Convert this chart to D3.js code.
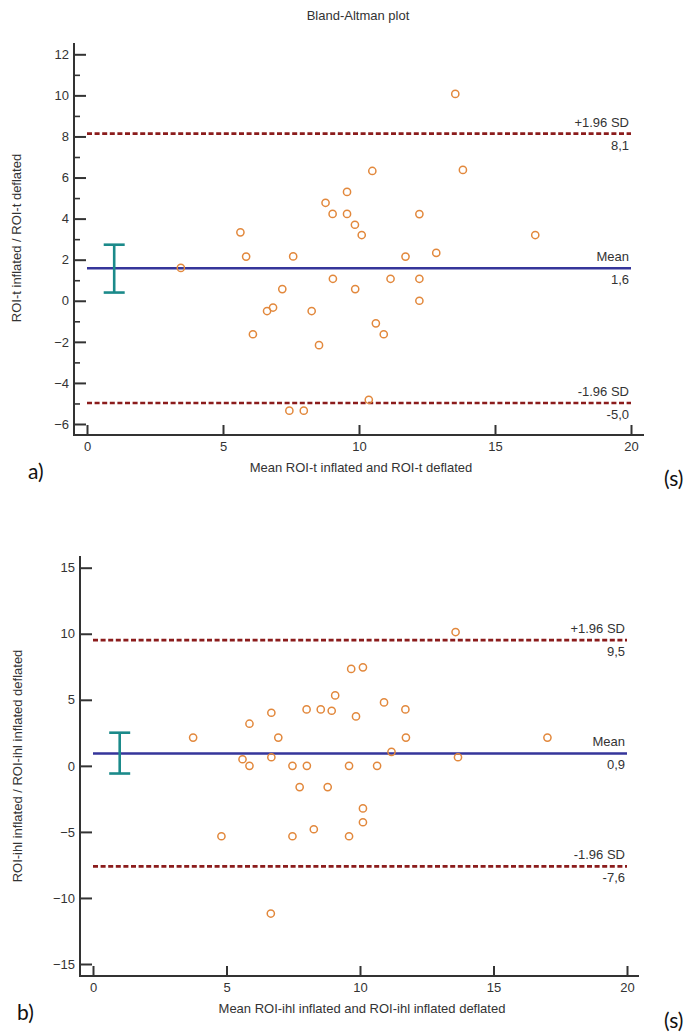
<!DOCTYPE html>
<html>
<head>
<meta charset="utf-8">
<script src="https://cdn.jsdelivr.net/npm/d3@7"></script>
<style>
  html, body { margin: 0; padding: 0; background: #fff; }
  svg { display: block; }
  text { font-family: "Liberation Sans", Arial, sans-serif; fill: #333; }
</style>
</head>
<body>
<svg id="chart" width="686" height="1036"></svg>
<script>
// ---------- DATA ----------
const titleText = "Bland-Altman plot";

// Panel a)
const aMeanX = [3.45, 5.64, 5.85, 6.10, 6.62, 6.84, 7.18, 7.44, 7.58, 7.97, 8.26, 8.53, 8.77, 9.03, 9.04, 9.56, 9.56, 9.85, 9.86, 10.1, 10.36, 10.49, 10.62, 10.91, 11.16, 11.71, 12.22, 12.22, 12.22, 12.84, 13.54, 13.82, 16.48];
const aDiffY = [1.6, 3.33, 2.15, -1.63, -0.5, -0.33, 0.57, -5.35, 2.16, -5.35, -0.5, -2.16, 4.77, 4.23, 1.07, 4.23, 5.3, 3.7, 0.57, 3.2, -4.82, 6.32, -1.1, -1.63, 1.07, 2.15, 4.22, 1.07, 0.0, 2.33, 10.07, 6.37, 3.2];
const aStats = { mean: 1.58, upper: 8.14, lower: -4.98 };
const aStatLabels = { mean: "1,6", upper: "8,1", lower: "-5,0" };
const aCI = { x: 1, low: 0.40, high: 2.73 };
const aYMajor = [-6, -4, -2, 0, 2, 4, 6, 8, 10, 12];
const aYMinor = [-5, -3, -1, 1, 3, 5, 7, 9, 11];
const aXTicks = [0, 5, 10, 15, 20];
const aXLabel = "Mean ROI-t inflated and ROI-t deflated";
const aYLabel = "ROI-t inflated / ROI-t deflated";

// Panel b)
const bMeanX = [13.58, 9.67, 10.11, 9.07, 10.9, 8.0, 8.53, 8.94, 11.70, 6.68, 9.85, 5.86, 3.75, 6.94, 11.72, 17.02, 11.18, 5.6, 5.86, 6.68, 7.47, 8.01, 9.59, 10.64, 13.67, 7.74, 8.79, 10.11, 10.11, 8.27, 4.81, 7.47, 9.59, 6.66];
const bDiffY = [10.13, 7.34, 7.46, 5.33, 4.8, 4.27, 4.27, 4.17, 4.27, 4.02, 3.74, 3.19, 2.14, 2.14, 2.14, 2.14, 1.06, 0.5, 0.0, 0.65, 0.0, 0.0, 0.0, 0.0, 0.65, -1.61, -1.61, -3.22, -4.27, -4.8, -5.33, -5.33, -5.33, -11.18];
const bStats = { mean: 0.94, upper: 9.52, lower: -7.61 };
const bStatLabels = { mean: "0,9", upper: "9,5", lower: "-7,6" };
const bCI = { x: 1, low: -0.58, high: 2.51 };
const bYMajor = [-15, -10, -5, 0, 5, 10, 15];
const bYMinor = [];
const bXTicks = [0, 5, 10, 15, 20];
const bXLabel = "Mean ROI-ihl inflated and ROI-ihl inflated deflated";
const bYLabel = "ROI-ihl inflated / ROI-ihl inflated deflated";

// ---------- STYLE ----------
const C = {
  axis: "#333333",
  point: "#e2883c",
  mean: "#35359a",
  sd: "#8b1c1c",
  ci: "#1b8a8a"
};

const svg = d3.select("#chart");

svg.append("text")
  .attr("x", 358).attr("y", 19.5)
  .attr("text-anchor", "middle")
  .style("font-size", "13px")
  .text(titleText);

function panel(cfg) {
  const g = svg.append("g");
  const x = d3.scaleLinear().domain([0, 20]).range(cfg.xr);
  const y = d3.scaleLinear().domain(cfg.yd).range(cfg.yr);

  // axis lines
  g.append("line")
    .attr("x1", cfg.axX).attr("x2", cfg.axX)
    .attr("y1", cfg.axTop).attr("y2", cfg.axY)
    .attr("stroke", C.axis).attr("stroke-width", 2);
  g.append("line")
    .attr("x1", cfg.axX - 1).attr("x2", cfg.axRight)
    .attr("y1", cfg.axY).attr("y2", cfg.axY)
    .attr("stroke", C.axis).attr("stroke-width", 2);

  // y major ticks
  const yAx = g.append("g").attr("transform", `translate(${cfg.axX},0)`)
    .call(d3.axisLeft(y).tickValues(cfg.yMajor).tickSize(-12).tickPadding(5).tickFormat(d3.format("d")));
  yAx.select(".domain").remove();
  yAx.attr("font-family", null);
  yAx.selectAll("line").attr("stroke", C.axis).attr("stroke-width", 2);
  yAx.selectAll("text").style("font-size", "13px").style("fill", "#333");

  if (cfg.yMinor.length) {
    const yMin = g.append("g").attr("transform", `translate(${cfg.axX},0)`)
      .call(d3.axisLeft(y).tickValues(cfg.yMinor).tickSize(-6).tickFormat(""));
    yMin.select(".domain").remove();
    yMin.selectAll("line").attr("stroke", C.axis).attr("stroke-width", 1.6);
  }

  // x ticks
  const xAx = g.append("g").attr("transform", `translate(0,${cfg.axY})`)
    .call(d3.axisBottom(x).tickValues(cfg.xTicks).tickSize(-10).tickPadding(7).tickFormat(d3.format("d")));
  xAx.select(".domain").remove();
  xAx.attr("font-family", null);
  xAx.selectAll("line").attr("stroke", C.axis).attr("stroke-width", 2);
  xAx.selectAll("text").style("font-size", "13px").style("fill", "#333");

  const x0 = x(0), x20 = x(20);

  // SD lines
  [cfg.stats.upper, cfg.stats.lower].forEach(v => {
    g.append("line")
      .attr("x1", x0).attr("x2", x20)
      .attr("y1", y(v)).attr("y2", y(v))
      .attr("stroke", C.sd).attr("stroke-width", 2.6)
      .attr("stroke-dasharray", "5,2.6");
  });
  // mean line
  g.append("line")
    .attr("x1", x0).attr("x2", x20)
    .attr("y1", y(cfg.stats.mean)).attr("y2", y(cfg.stats.mean))
    .attr("stroke", C.mean).attr("stroke-width", 2.6);

  // line labels
  const lab = [
    { v: cfg.stats.upper, top: "+1.96 SD", bot: cfg.labels.upper },
    { v: cfg.stats.mean, top: "Mean", bot: cfg.labels.mean },
    { v: cfg.stats.lower, top: "-1.96 SD", bot: cfg.labels.lower }
  ];
  lab.forEach(l => {
    g.append("text").attr("x", x20 - 2).attr("y", y(l.v) - 7)
      .attr("text-anchor", "end").style("font-size", "13px").text(l.top);
    g.append("text").attr("x", x20 - 2).attr("y", y(l.v) + 16)
      .attr("text-anchor", "end").style("font-size", "13px").text(l.bot);
  });

  // CI error bar
  const cx = x(cfg.ci.x);
  const ciG = g.append("g").attr("stroke", C.ci).attr("stroke-width", 2.6).attr("fill", "none");
  ciG.append("line").attr("x1", cx).attr("x2", cx).attr("y1", y(cfg.ci.high)).attr("y2", y(cfg.ci.low));
  ciG.append("line").attr("x1", cx - 10.5).attr("x2", cx + 10.5).attr("y1", y(cfg.ci.high)).attr("y2", y(cfg.ci.high));
  ciG.append("line").attr("x1", cx - 10.5).attr("x2", cx + 10.5).attr("y1", y(cfg.ci.low)).attr("y2", y(cfg.ci.low));

  // points
  const pts = cfg.px.map((d, i) => ({ x: d, y: cfg.py[i] }));
  g.append("g").selectAll("circle").data(pts).join("circle")
    .attr("cx", d => x(d.x)).attr("cy", d => y(d.y)).attr("r", 3.6)
    .attr("fill", "none").attr("stroke", C.point).attr("stroke-width", 1.5);

  // axis titles
  g.append("text").attr("x", cfg.xLabelX).attr("y", cfg.xLabelY)
    .attr("text-anchor", "middle").style("font-size", "13px").text(cfg.xLabel);
  g.append("text")
    .attr("transform", `translate(${cfg.yLabelX},${cfg.yLabelY}) rotate(-90)`)
    .attr("text-anchor", "middle").style("font-size", "13px").text(cfg.yLabel);

  // panel tags
  g.append("text").attr("x", cfg.tagX).attr("y", cfg.tagY)
    .style("font-family", "Lato, 'Open Sans', sans-serif").style("font-size", "21px").style("fill", "#111")
    .text(cfg.tag);
  g.append("text").attr("x", 664).attr("y", cfg.sY)
    .style("font-family", "Lato, 'Open Sans', sans-serif").style("font-size", "21px").style("fill", "#111")
    .text("(s)");
}

panel({
  xr: [87, 631], yd: [12, -6], yr: [54.3, 424],
  axX: 74, axY: 435, axTop: 43, axRight: 644,
  yMajor: aYMajor, yMinor: aYMinor, xTicks: aXTicks,
  stats: aStats, labels: aStatLabels, ci: aCI,
  px: aMeanX, py: aDiffY,
  xLabel: aXLabel, xLabelX: 361, xLabelY: 472,
  yLabel: aYLabel, yLabelX: 21, yLabelY: 238,
  tag: "a)", tagX: 28, tagY: 479, sY: 486
});

panel({
  xr: [93, 627], yd: [15, -15], yr: [567.7, 964],
  axX: 80, axY: 976, axTop: 556, axRight: 639,
  yMajor: bYMajor, yMinor: bYMinor, xTicks: bXTicks,
  stats: bStats, labels: bStatLabels, ci: bCI,
  px: bMeanX, py: bDiffY,
  xLabel: bXLabel, xLabelX: 362, xLabelY: 1013,
  yLabel: bYLabel, yLabelX: 22, yLabelY: 766,
  tag: "b)", tagX: 17, tagY: 1020, sY: 1028
});
</script>
</body>
</html>
